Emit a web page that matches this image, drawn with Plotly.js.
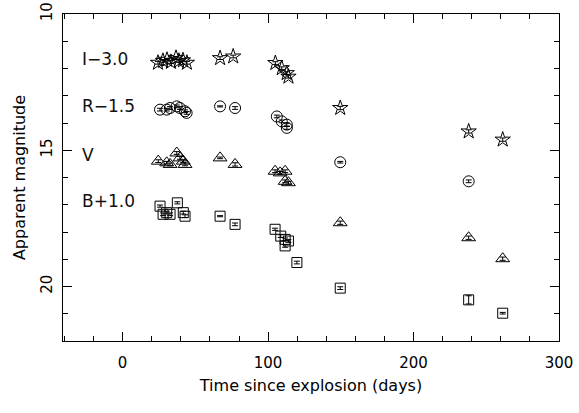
<!DOCTYPE html>
<html>
<head>
<meta charset="utf-8">
<script src="https://cdn.plot.ly/plotly-3.0.1.min.js"></script>
<style>html,body{margin:0;padding:0;background:#fff;}#chart{width:579px;height:413px;}</style>
</head>
<body>
<div id="chart"></div>
<script>
// I - 3.0 (stars)
var iDays = [24.3, 27.7, 30.5, 33.2, 36.7, 38.7, 41.5, 44.2, 67, 76, 105, 109.4, 112.8, 114, 149.6, 237.9, 261.3];
var iMag  = [11.79, 11.72, 11.68, 11.76, 11.61, 11.72, 11.70, 11.79, 11.62, 11.56, 11.80, 11.99, 12.17, 12.30, 13.45, 14.31, 14.61];
var iErr  = [0.05,0.05,0.05,0.05,0.05,0.05,0.05,0.05,0.05,0.05,0.05,0.05,0.05,0.05,0.06,0.06,0.06];
// R - 1.5 (circles)
var rDays = [25.7, 30.3, 32.6, 37.2, 39.4, 42.9, 44.0, 67, 77.3, 106, 109.4, 112.9, 112.9, 149.6, 237.9];
var rMag  = [13.51, 13.51, 13.45, 13.39, 13.45, 13.57, 13.63, 13.39, 13.45, 13.76, 13.94, 14.06, 14.18, 15.44, 16.14];
var rErr  = [0.05,0.05,0.05,0.05,0.05,0.05,0.05,0.02,0.05,0.05,0.05,0.05,0.05,0.03,0.05];
// V (triangles)
var vDays = [24.5, 30.3, 32.6, 37.2, 39.4, 41.7, 42.9, 67, 77.3, 104.8, 108.3, 111.7, 111.7, 114, 149.6, 237.9, 261.3];
var vMag  = [15.40, 15.46, 15.52, 15.10, 15.28, 15.40, 15.52, 15.28, 15.52, 15.77, 15.83, 15.77, 16.14, 16.19, 17.66, 18.21, 18.98];
var vErr  = [0.05,0.05,0.05,0.05,0.05,0.05,0.05,0.03,0.06,0.05,0.05,0.05,0.05,0.05,0.06,0.06,0.06];
// B + 1.0 (squares)
var bDays = [25.7, 27.8, 30.3, 32.6, 37.6, 41.7, 42.9, 67, 77.3, 104.8, 108.7, 111.7, 111.7, 114, 119.8, 149.6, 237.9, 261.3];
var bMag  = [17.05, 17.35, 17.29, 17.35, 16.93, 17.29, 17.42, 17.42, 17.72, 17.90, 18.15, 18.27, 18.51, 18.33, 19.12, 20.06, 20.49, 20.98];
var bErr  = [0.04,0.05,0.05,0.05,0.04,0.05,0.05,0.02,0.05,0.04,0.05,0.05,0.05,0.05,0.05,0.05,0.15,0.03];

var bandLabels = ["I\u22123.0", "R\u22121.5", "V", "B+1.0"];
var labelMag = [11.65, 13.37, 15.16, 16.88];

function tr(x, y, e, sym, size) {
  return {
    x: x, y: y, type: 'scatter', mode: 'markers',
    marker: {symbol: sym, size: size, color: '#000', line: {color: '#000', width: 1}},
    error_y: {type: 'data', array: e, visible: true, color: '#000', thickness: 1, width: 3},
    showlegend: false, hoverinfo: 'skip'
  };
}

var data = [
  tr(iDays, iMag, iErr, 'star-open', 11.5),
  tr(rDays, rMag, rErr, 'circle-open', 11),
  tr(vDays, vMag, vErr, 'triangle-up-open', 12),
  tr(bDays, bMag, bErr, 'square-open', 10)
];

var font = {family: 'DejaVu Sans, sans-serif', size: 15, color: '#000'};
var annotations = bandLabels.map(function(t, k){
  return {x: -29.5, y: labelMag[k], xref: 'x', yref: 'y', text: t, showarrow: false,
          xanchor: 'left', yanchor: 'middle', font: {family: 'DejaVu Sans, sans-serif', size: 17, color: '#111'}};
});

var layout = {
  width: 579, height: 413,
  margin: {l: 63, r: 20, t: 14, b: 72},
  paper_bgcolor: '#fff', plot_bgcolor: '#fff',
  font: font,
  showlegend: false,
  xaxis: {
    range: [-41, 300], showgrid: false, zeroline: false,
    showline: true, linecolor: '#000', linewidth: 1, mirror: 'ticks',
    ticks: 'inside', ticklen: 9, tickcolor: '#000', tickwidth: 1,
    tick0: 0, dtick: 100, ticklabelstandoff: 8,
    minor: {dtick: 20, ticks: 'inside', ticklen: 5, tickcolor: '#000', showgrid: false},
    tickfont: font,
    title: {text: 'Time since explosion (days)', font: {family: 'DejaVu Sans, sans-serif', size: 16, color: '#000'}, standoff: 8}
  },
  yaxis: {
    range: [22, 10], showgrid: false, zeroline: false,
    showline: true, linecolor: '#000', linewidth: 1, mirror: 'ticks',
    ticks: 'inside', ticklen: 9, tickcolor: '#000', tickwidth: 1,
    tick0: 10, dtick: 5, tickangle: -90, ticklabelstandoff: 4,
    minor: {dtick: 1, ticks: 'inside', ticklen: 5, tickcolor: '#000', showgrid: false},
    tickfont: font,
    title: {text: 'Apparent magnitude', font: {family: 'DejaVu Sans, sans-serif', size: 16, color: '#000'}, standoff: 8}
  },
  annotations: annotations
};

Plotly.newPlot('chart', data, layout, {displayModeBar: false, staticPlot: true});
</script>
</body>
</html>
